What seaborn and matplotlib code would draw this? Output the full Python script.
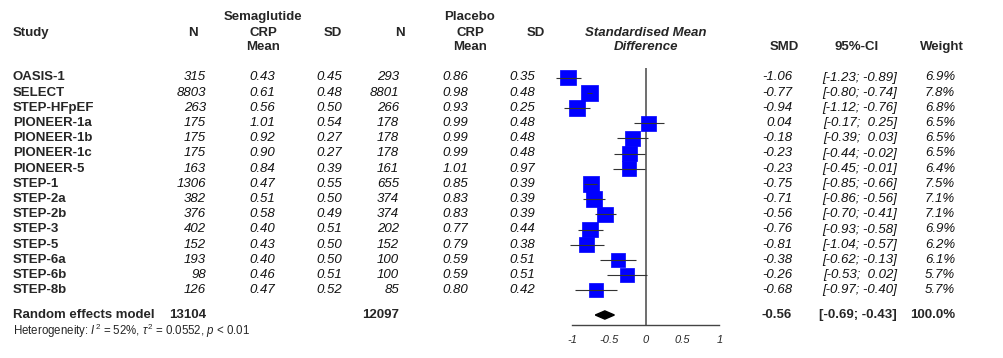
import numpy as np
import pandas as pd
import matplotlib
matplotlib.use('Agg')
import matplotlib.pyplot as plt
import seaborn as sns

studies = ['OASIS-1', 'SELECT', 'STEP-HFpEF', 'PIONEER-1a', 'PIONEER-1b', 'PIONEER-1c',
           'PIONEER-5', 'STEP-1', 'STEP-2a', 'STEP-2b', 'STEP-3', 'STEP-5', 'STEP-6a',
           'STEP-6b', 'STEP-8b']
sema_n = [315, 8803, 263, 175, 175, 175, 163, 1306, 382, 376, 402, 152, 193, 98, 126]
sema_mean = [0.43, 0.61, 0.56, 1.01, 0.92, 0.90, 0.84, 0.47, 0.51, 0.58, 0.40, 0.43, 0.40, 0.46, 0.47]
sema_sd = [0.45, 0.48, 0.50, 0.54, 0.27, 0.27, 0.39, 0.55, 0.50, 0.49, 0.51, 0.50, 0.50, 0.51, 0.52]
pla_n = [293, 8801, 266, 178, 178, 178, 161, 655, 374, 374, 202, 152, 100, 100, 85]
pla_mean = [0.86, 0.98, 0.93, 0.99, 0.99, 0.99, 1.01, 0.85, 0.83, 0.83, 0.77, 0.79, 0.59, 0.59, 0.80]
pla_sd = [0.35, 0.48, 0.25, 0.48, 0.48, 0.48, 0.97, 0.39, 0.39, 0.39, 0.44, 0.38, 0.51, 0.51, 0.42]
smd = [-1.06, -0.77, -0.94, 0.04, -0.18, -0.23, -0.23, -0.75, -0.71, -0.56, -0.76, -0.81, -0.38, -0.26, -0.68]
ci_lo = [-1.23, -0.80, -1.12, -0.17, -0.39, -0.44, -0.45, -0.85, -0.86, -0.70, -0.93, -1.04, -0.62, -0.53, -0.97]
ci_hi = [-0.89, -0.74, -0.76, 0.25, 0.03, -0.02, -0.01, -0.66, -0.56, -0.41, -0.58, -0.57, -0.13, 0.02, -0.40]
weight = [6.9, 7.8, 6.8, 6.5, 6.5, 6.5, 6.4, 7.5, 7.1, 7.1, 6.9, 6.2, 6.1, 5.7, 5.7]

total_sema_n = 13104
total_pla_n = 12097
pooled_smd = -0.56
pooled_lo = -0.69
pooled_hi = -0.43
heterogeneity = r'Heterogeneity: $I^2$ = 52%, $\tau^2$ = 0.0552, $p$ < 0.01'
xticks = [-1, -0.5, 0, 0.5, 1]

df = pd.DataFrame({'study': studies, 'smd': smd, 'lo': ci_lo, 'hi': ci_hi, 'weight': weight})
df['row'] = np.arange(len(df))

sns.set_theme(style='white')
plt.rcParams['font.family'] = ['Liberation Sans', 'DejaVu Sans']
plt.rcParams['mathtext.fontset'] = 'custom'
plt.rcParams['mathtext.rm'] = 'Liberation Sans'
plt.rcParams['mathtext.it'] = 'Liberation Sans:italic'

# layout: row i sits at pixel 77.5 + 15.2 * i
W, H = 1004, 358
y0, dy = 77.5, 15.2
def r(px):
    return (px - y0) / dy
ylim = (r(H), r(0))
sum_row = r(315)
axis_row = r(325)

fig = plt.figure(figsize=(W / 100, H / 100), dpi=100)
tab = fig.add_axes([0, 0, 1, 1])
tab.set_xlim(0, W)
tab.set_ylim(*ylim)
tab.axis('off')

fs = 9.5
def head(x, y, s, **kw):
    tab.text(x, r(y), s, ha='center', va='center', fontsize=fs, weight='bold', **kw)

# headers
head(263, 17, 'Semaglutide')
head(470, 17, 'Placebo')
tab.text(13, r(33), 'Study', ha='left', va='center', fontsize=fs, weight='bold')
for cx, lab in [(193, 'N'), (263, 'CRP'), (333, 'SD'), (400, 'N'), (470, 'CRP'), (536, 'SD')]:
    head(cx, 33, lab)
head(263, 47, 'Mean')
head(470, 47, 'Mean')
head(646, 33, 'Standardised Mean', style='italic')
head(646, 47, 'Difference', style='italic')
head(784, 47, 'SMD')
head(857, 47, '95%-CI')
head(942, 47, 'Weight')

# study rows
for i, row in df.iterrows():
    y = row['row']
    tab.text(13, y, row['study'], ha='left', va='center', fontsize=fs, weight='bold')
    cells = [(206, f'{sema_n[i]}'), (275, f'{sema_mean[i]:.2f}'), (342, f'{sema_sd[i]:.2f}'),
             (399, f'{pla_n[i]}'), (468, f'{pla_mean[i]:.2f}'), (535, f'{pla_sd[i]:.2f}'),
             (792, f'{smd[i]:.2f}'), (897, f'[{ci_lo[i]:5.2f}; {ci_hi[i]:5.2f}]'),
             (955, f'{weight[i]:.1f}%')]
    for cx, s in cells:
        tab.text(cx, y, s, ha='right', va='center', fontsize=fs, style='italic', color='#111111')

# pooled row
tab.text(13, sum_row, 'Random effects model', ha='left', va='center', fontsize=fs, weight='bold')
tab.text(206, sum_row, f'{total_sema_n}', ha='right', va='center', fontsize=fs, weight='bold')
tab.text(399, sum_row, f'{total_pla_n}', ha='right', va='center', fontsize=fs, weight='bold')
tab.text(792, sum_row, f'{pooled_smd:.2f}', ha='right', va='center', fontsize=fs, weight='bold')
tab.text(897, sum_row, f'[{pooled_lo:.2f}; {pooled_hi:.2f}]', ha='right', va='center', fontsize=fs, weight='bold')
tab.text(955, sum_row, '100.0%', ha='right', va='center', fontsize=fs, weight='bold')
tab.text(13, r(331), heterogeneity, ha='left', va='center', fontsize=8.3)

# forest panel: x=0 at pixel 646, 73.5 px per unit
px0, scale = 646, 73.5
left, right = 540, 750
fx = fig.add_axes([left / W, 0, (right - left) / W, 1])
fx.set_xlim((left - px0) / scale, (right - px0) / scale)
fx.set_ylim(*ylim)
fx.patch.set_alpha(0)
for s in ['top', 'left', 'right']:
    fx.spines[s].set_visible(False)
fx.spines['bottom'].set_position(('data', axis_row))
fx.spines['bottom'].set_bounds(-1, 1)
fx.spines['bottom'].set_color('#444444')
fx.spines['bottom'].set_linewidth(1.0)
fx.set_yticks([])
fx.set_xticks(xticks)
fx.set_xticklabels([f'{t:g}' for t in xticks], fontsize=8, style='italic')
fx.tick_params(axis='x', direction='out', length=3, width=1.0, color='#444444', pad=4)

fx.vlines(0, r(68), axis_row, color='#555555', lw=1.2, zorder=1)
sns.scatterplot(data=df, x='smd', y='row', size='weight', sizes=(101, 138), size_norm=(5.7, 7.8),
                marker='s', color='#0000FF', edgecolor='#0000FF', linewidth=0.5,
                legend=False, ax=fx, zorder=2)
fx.hlines(df['row'], df['lo'], df['hi'], color='#333333', lw=0.8, zorder=3)
fx.fill([pooled_lo, pooled_smd, pooled_hi, pooled_smd],
        [sum_row, sum_row - 0.27, sum_row, sum_row + 0.27], color='black', zorder=3)
fx.set_xlabel('')
fx.set_ylabel('')

fig.savefig('out.png', dpi=100)
